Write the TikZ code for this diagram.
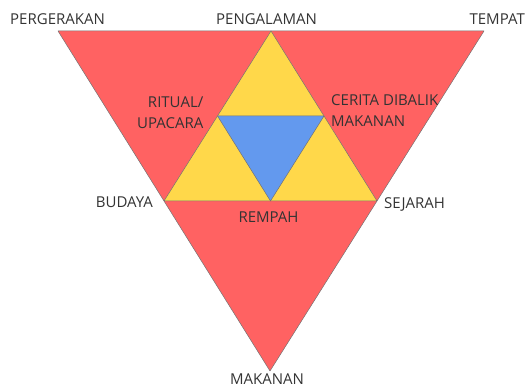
\documentclass[tikz,border=0pt]{standalone}
\usepackage{fontspec}
\setmainfont{Open Sans}
\definecolor{redf}{HTML}{FF6262}
\definecolor{yelf}{HTML}{FFD84A}
\definecolor{bluf}{HTML}{6399EE}
\definecolor{txt}{HTML}{333333}
\begin{document}
\begin{tikzpicture}[x=1pt,y=-1pt,
  tri/.style={draw=black!55,line width=0.5pt,line join=round},
  lbl/.style={text=txt,font=\fontsize{15}{21}\selectfont,inner sep=0pt}]
\useasboundingbox (0,0) rectangle (528,387);
% outer red triangle
\coordinate (A) at (58,31);
\coordinate (B) at (484,31);
\coordinate (C) at (270,371);
\coordinate (AB) at (271,31);
\coordinate (AC) at (164,201);
\coordinate (BC) at (377,201);
\coordinate (P) at (217.5,116);
\coordinate (Q) at (324,116);
\coordinate (R) at (270.5,201);
\fill[redf,tri] (A) -- (B) -- (C) -- cycle;
\fill[yelf,tri] (AB) -- (AC) -- (BC) -- cycle;
\fill[bluf,tri] (P) -- (Q) -- (R) -- cycle;
% labels
\node[lbl,anchor=west] (pergerakan) at (10,19.5) {PERGERAKAN};
\node[lbl] (pengalaman) at (266.5,19.5) {PENGALAMAN};
\node[lbl,anchor=east] (tempat) at (525,19.5) {TEMPAT};
\node[lbl,anchor=east,align=right] (ritual) at (203.5,112.5) {RITUAL/\\UPACARA};
\node[lbl,anchor=west,align=left] (cerita) at (331,111) {CERITA DIBALIK\\MAKANAN};
\node[lbl,anchor=east] (budaya) at (153,202.5) {BUDAYA};
\node[lbl,anchor=west] (sejarah) at (384,204) {SEJARAH};
\node[lbl] (rempah) at (268.5,217) {REMPAH};
\node[lbl] (makanan) at (267,379) {MAKANAN};
\end{tikzpicture}
\end{document}
